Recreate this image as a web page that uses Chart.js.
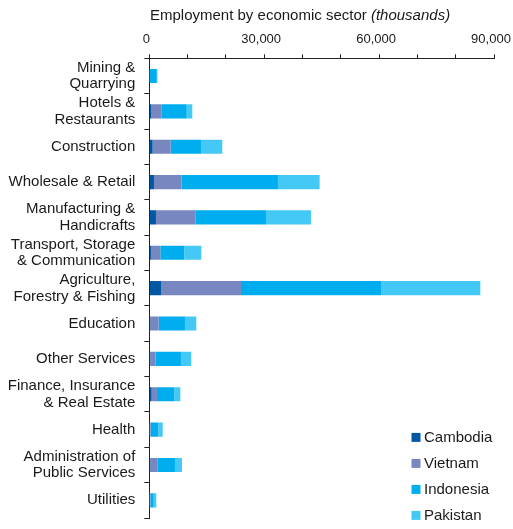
<!DOCTYPE html>
<html>
<head>
<meta charset="utf-8">
<script src="https://cdn.jsdelivr.net/npm/chart.js@4/dist/chart.umd.min.js"></script>
<style>
  html, body { margin: 0; padding: 0; background: #fff; }
  #wrap { position: relative; width: 513px; height: 529px; }
  #title { position: absolute; left: 150px; top: 6px; font: 15px "Liberation Sans", Arial, sans-serif; line-height: 18px; color: #1a1a1a; white-space: nowrap; }
  canvas { position: absolute; left: 0; top: 0; }
</style>
</head>
<body>
<div id="wrap">
  <canvas id="c" width="513" height="529"></canvas>
  <div id="title">Employment by economic sector <i>(thousands)</i></div>
</div>
<script>
const categories = [
  ['Mining &', 'Quarrying'],
  ['Hotels &', 'Restaurants'],
  'Construction',
  'Wholesale & Retail',
  ['Manufacturing &', 'Handicrafts'],
  ['Transport, Storage', '& Communication'],
  ['Agriculture,', 'Forestry & Fishing'],
  'Education',
  'Other Services',
  ['Finance, Insurance', '& Real Estate'],
  'Health',
  ['Administration of', 'Public Services'],
  'Utilities'
];
const seriesNames = ['Cambodia', 'Vietnam', 'Indonesia', 'Pakistan'];
const cambodia  = [10, 450, 870, 1220, 1740, 430, 3050, 260, 260, 610, 50, 260, 20];
const vietnam   = [50, 2690, 4700, 7220, 10270, 2440, 20890, 2180, 1390, 1390, 300, 1830, 250];
const indonesia = [1900, 6630, 7920, 25150, 18450, 6270, 36550, 6870, 6610, 4530, 2000, 4610, 850];
const pakistan  = [150, 1460, 5570, 10880, 11750, 4440, 25940, 2960, 2700, 1570, 1150, 1830, 700];
const xTickLabels = { 0: '0', 30000: '30,000', 60000: '60,000', 90000: '90,000' };

const colors = ['#0057A4', '#7887C0', '#00AEEF', '#44C8F5'];
const FONT = '"Liberation Sans", Arial, sans-serif';
Chart.defaults.font.family = FONT;
Chart.defaults.color = '#1a1a1a';

const cornerLegend = {
  id: 'cornerLegend',
  afterDraw(chart) {
    const ctx = chart.ctx;
    const a = chart.chartArea;
    ctx.save();
    ctx.font = '15px ' + FONT;
    ctx.textBaseline = 'middle';
    ctx.textAlign = 'left';
    chart.data.datasets.forEach((ds, i) => {
      const cy = a.bottom - 80.6 + i * 26;
      const bx = a.right - 82.5;
      ctx.fillStyle = ds.backgroundColor;
      ctx.fillRect(bx, cy - 4.5, 9, 9);
      ctx.fillStyle = '#1a1a1a';
      ctx.fillText(ds.label, bx + 12.5, cy + 0.5);
    });
    ctx.restore();
  }
};

const values = [cambodia, vietnam, indonesia, pakistan];
new Chart(document.getElementById('c'), {
  type: 'bar',
  data: {
    labels: categories,
    datasets: seriesNames.map((n, i) => ({
      label: n,
      data: values[i],
      backgroundColor: colors[i],
      borderWidth: 0,
      barPercentage: 0.4,
      categoryPercentage: 1
    }))
  },
  options: {
    indexAxis: 'y',
    responsive: false,
    animation: false,
    devicePixelRatio: 1,
    layout: { padding: { left: 0, top: 0, right: 19, bottom: 11 } },
    plugins: {
      legend: { display: false },
      tooltip: { enabled: false }
    },
    scales: {
      x: {
        position: 'top',
        stacked: true,
        min: 0,
        max: 90000,
        ticks: {
          stepSize: 10000,
          autoSkip: false,
          maxRotation: 0,
          padding: 7,
          labelOffset: -3,
          font: { size: 13 },
          color: '#1a1a1a',
          callback: (v) => (xTickLabels[v] !== undefined ? xTickLabels[v] : '')
        },
        grid: { drawOnChartArea: false, tickLength: 4, tickColor: '#222', tickWidth: 1 },
        border: { color: '#222', width: 1 },
        afterFit(s) { s.height = 58.3; s.paddingLeft = 0; s.paddingRight = 0; }
      },
      y: {
        stacked: true,
        offset: true,
        ticks: {
          padding: 9,
          autoSkip: false,
          font: { size: 15, lineHeight: 1.1 },
          color: '#1a1a1a'
        },
        grid: { drawOnChartArea: false, offset: true, tickLength: 5, tickColor: '#222', tickWidth: 1 },
        border: { color: '#222', width: 1 },
        afterFit(s) { s.width = 149.3; s.paddingTop = 0; s.paddingBottom = 0; }
      }
    }
  },
  plugins: [cornerLegend]
});
</script>
</body>
</html>
